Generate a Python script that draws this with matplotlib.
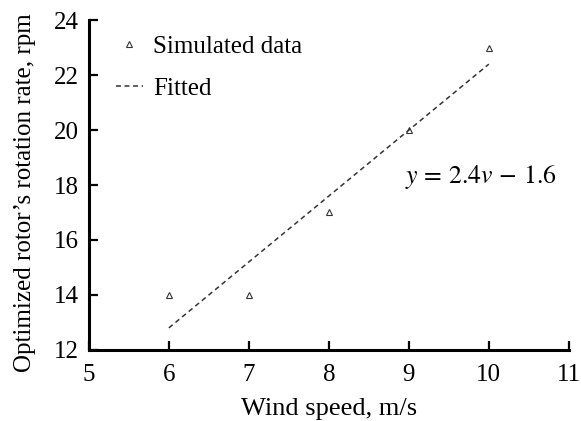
import matplotlib
matplotlib.use('Agg')
import matplotlib.pyplot as plt
import numpy as np

plt.rcParams['font.family'] = 'Liberation Serif'
plt.rcParams['mathtext.fontset'] = 'stix'

wind = [6, 7, 8, 9, 10]
rpm = [14, 14, 17, 20, 23]
fit_slope = 2.4
fit_icpt = -1.6

fig = plt.figure(figsize=(5.81, 4.21), dpi=100)
ax = fig.add_axes([0.153, 0.169, 0.826, 0.783])

ax.plot(wind, rpm, linestyle='none', marker='^', markersize=4,
        markerfacecolor='none', markeredgecolor='#333333', markeredgewidth=0.8,
        label='Simulated data')
vfit = np.array([wind[0], wind[-1]])
ax.plot(vfit, fit_slope * vfit + fit_icpt, linestyle=(0, (3.2, 2.4)), color='#333333',
        linewidth=1.1, label='Fitted')

ax.text(8.95, 18.29, r'$y\,=\,2.4v\,-\,1.6$', fontsize=18.5, va='center')

ax.set_xlim(5, 11)
ax.set_ylim(12, 24)
ax.set_xticks([5, 6, 7, 8, 9, 10, 11])
ax.set_yticks([12, 14, 16, 18, 20, 22, 24])
ax.spines['top'].set_visible(False)
ax.spines['right'].set_visible(False)
ax.spines['left'].set_linewidth(2.2)
ax.spines['bottom'].set_linewidth(2.2)
ax.tick_params(direction='in', length=6.5, width=1.6, labelsize=18)
ax.tick_params(axis='x', pad=10.5)
ax.tick_params(axis='y', pad=7)
ax.set_xlabel('Wind speed, m/s', fontsize=19, labelpad=8)
ax.set_ylabel('Optimized rotor’s rotation rate, rpm', fontsize=18)
ax.yaxis.set_label_coords(-0.11, 0.478)

ax.legend(loc='upper left', bbox_to_anchor=(0.035, 0.985), frameon=False, fontsize=18,
          handlelength=1.1, handletextpad=0.4, labelspacing=0.8, borderaxespad=0)

fig.savefig('out.png', dpi=100)
